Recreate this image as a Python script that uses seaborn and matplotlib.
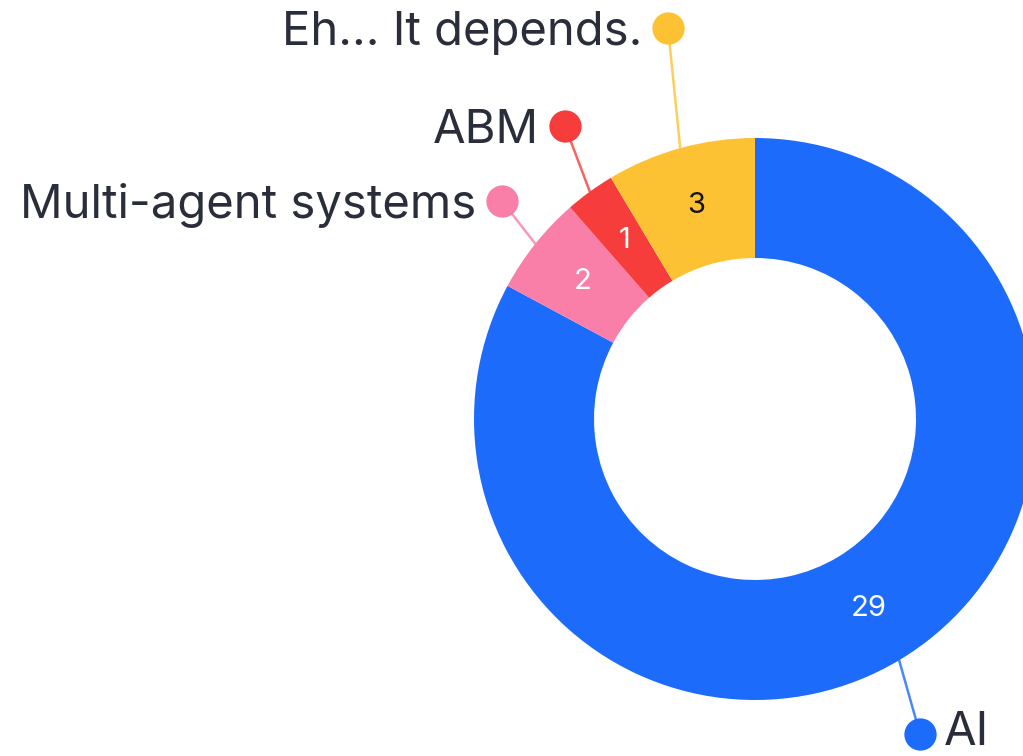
import numpy as np
import matplotlib.pyplot as plt
import seaborn as sns

# answers, clockwise from 12 o'clock
labels = ["AI", "Multi-agent systems", "ABM", "Eh... It depends."]
counts = [29, 2, 1, 3]
colors = ["#1C6BFB", "#F97FA8", "#F63D3B", "#FDC233"]
value_colors = ["white", "white", "white", "#111111"]

# where the callout dots sit (pixels, y measured from the top)
dot_xy = [(920, 734), (502, 201), (565, 126), (668, 28)]

sns.set_theme(style="white")
plt.rcParams['font.family'] = ['Inter', 'DejaVu Sans']

W, H = 1023, 756
fig = plt.figure(figsize=(W / 100, H / 100), dpi=100)
ax = fig.add_axes([0, 0, 1, 1])

cx, cy = 755, H - 419
r_out, r_in = 281, 161

wedges, _ = ax.pie(counts, colors=colors, startangle=90, counterclock=False,
                   center=(cx, cy), radius=r_out,
                   wedgeprops=dict(width=r_out - r_in, linewidth=0))

text_col = "#2A2E3A"
for w, lab, n, vc, (dx, dy) in zip(wedges, labels, counts, value_colors, dot_xy):
    mid = np.deg2rad((w.theta1 + w.theta2) / 2)
    rm = (r_out + r_in) / 2
    ax.text(cx + rm * np.cos(mid), cy + rm * np.sin(mid), str(n),
            ha="center", va="center", fontsize=21, color=vc)
    # leader line from outer edge to the dot
    sx, sy = cx + r_out * np.cos(mid), cy + r_out * np.sin(mid)
    dy = H - dy
    ax.plot([sx, dx], [sy, dy], color=w.get_facecolor(), lw=1.8, alpha=0.8,
            zorder=1)
    ax.scatter([dx], [dy], s=540, color=w.get_facecolor(), zorder=3,
               linewidths=0)
    if dx > cx:
        ax.text(dx + 24, dy + 1, lab, ha="left", va="center", fontsize=34,
                color=text_col)
    else:
        ax.text(dx - 26, dy - 5, lab, ha="right", va="center", fontsize=34,
                color=text_col)

ax.set_xlim(0, W)
ax.set_ylim(0, H)
ax.set_aspect("equal")
ax.axis("off")

fig.savefig("out.png", dpi=100, facecolor="white")
